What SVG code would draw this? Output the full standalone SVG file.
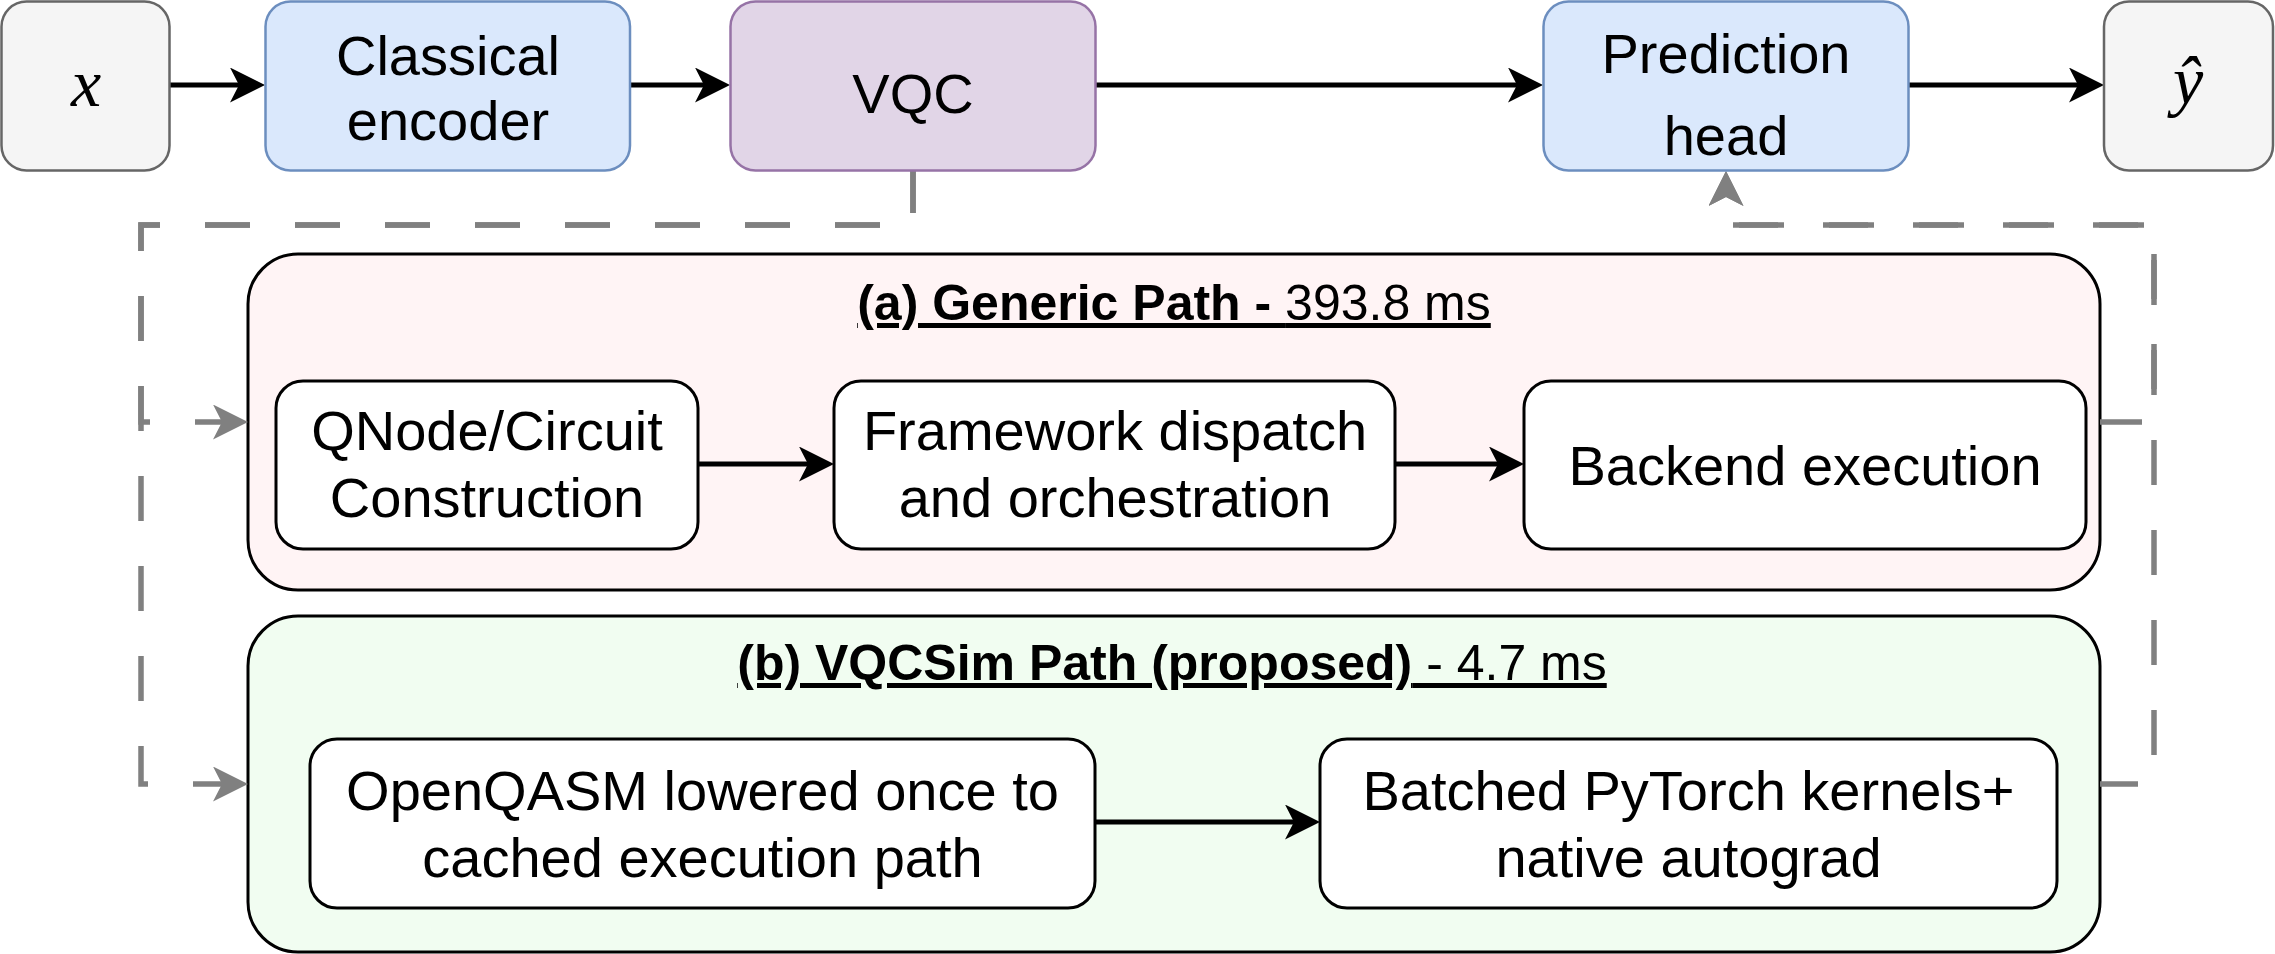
<svg xmlns="http://www.w3.org/2000/svg" width="2275" height="954" viewBox="0 0 2275 954">
<defs>
<style>
.lbl{font-family:"Liberation Sans",Arial,sans-serif;font-size:56px;fill:#000;text-anchor:middle}
.ttl{font-family:"Liberation Sans",Arial,sans-serif;font-size:50px;fill:#000;text-anchor:middle;text-decoration:underline}
.math{font-family:"Liberation Serif","Times New Roman",serif;font-style:italic;font-size:68px;fill:#000;text-anchor:middle}
.io{fill:#f5f5f5;stroke:#666666;stroke-width:2.5}
.blue{fill:#dae8fc;stroke:#6c8ebf;stroke-width:2.5}
.purple{fill:#e1d5e7;stroke:#9673a6;stroke-width:2.5}
.inner{fill:#ffffff;stroke:#000;stroke-width:3}
.flow{fill:none;stroke:#000;stroke-width:5;marker-end:url(#ab)}
.dash{fill:none;stroke:#808080;stroke-width:5.5;stroke-dasharray:45 45;marker-end:url(#ag)}
</style>
<marker id="ab" viewBox="0 0 35 35" refX="9" refY="17.5" markerWidth="35" markerHeight="35" markerUnits="userSpaceOnUse" orient="auto"><path d="M0,0 L35,17.5 L0,35 L9,17.5 Z" fill="#000"/></marker>
<marker id="ag" viewBox="0 0 35 35" refX="9" refY="17.5" markerWidth="35" markerHeight="35" markerUnits="userSpaceOnUse" orient="auto"><path d="M0,0 L35,17.5 L0,35 L9,17.5 Z" fill="#808080"/></marker>
</defs>
<rect width="2275" height="954" fill="#ffffff"/>

<g id="path-a">
<rect x="248" y="254" width="1852" height="336" rx="50" fill="#fff4f5" stroke="#000" stroke-width="3"/>
<text class="ttl" x="1174" y="320"><tspan font-weight="bold">(a) Generic Path - </tspan><tspan>393.8 ms</tspan></text>
</g>
<g id="path-b">
<rect x="248" y="616" width="1852" height="336" rx="50" fill="#f1fdf1" stroke="#000" stroke-width="3"/>
<text class="ttl" x="1172" y="680"><tspan font-weight="bold">(b) VQCSim Path (proposed)</tspan><tspan> - 4.7 ms</tspan></text>
</g>

<g id="connectors">
<path class="dash" stroke-dashoffset="3" d="M913,171 V225 H141 V422 H222"/>
<path class="dash" stroke-dashoffset="3" d="M913,171 V225 H141 V784 H222"/>
<path class="dash" stroke-dashoffset="3" d="M2100,422 H2154 V225 H1726 V197"/>
<path class="dash" stroke-dashoffset="7" d="M2100,784 H2154 V225 H1726 V197"/>
<path class="flow" d="M170,85 H239"/>
<path class="flow" d="M630,85 H704"/>
<path class="flow" d="M1096,85 H1517"/>
<path class="flow" d="M1908,85 H2078"/>
<path class="flow" d="M698,464 H808"/>
<path class="flow" d="M1395,464 H1498"/>
<path class="flow" d="M1095,822 H1294"/>
</g>

<g id="x">
<rect class="io" x="1.5" y="1.5" width="168" height="169" rx="25"/>
<text class="math" x="86" y="106">x</text>
</g>
<g id="encoder">
<rect class="blue" x="265.5" y="1.5" width="364.5" height="169" rx="25"/>
<text class="lbl" x="448" y="75">Classical</text>
<text class="lbl" x="448" y="140">encoder</text>
</g>
<g id="vqc">
<rect class="purple" x="730.5" y="1.5" width="365" height="169" rx="25"/>
<text class="lbl" x="913" y="113">VQC</text>
</g>
<g id="prediction-head">
<rect class="blue" x="1543.5" y="1.5" width="365" height="169" rx="25"/>
<text class="lbl" x="1726" y="73">Prediction</text>
<text class="lbl" x="1726" y="155">head</text>
</g>
<g id="y-hat">
<rect class="io" x="2104" y="1.5" width="169" height="169" rx="25"/>
<text class="math" x="2188" y="104">ŷ</text>
</g>

<g id="qnode">
<rect class="inner" x="276" y="381" width="422" height="168" rx="27"/>
<text class="lbl" x="487" y="450">QNode/Circuit</text>
<text class="lbl" x="487" y="517">Construction</text>
</g>
<g id="framework">
<rect class="inner" x="834" y="381" width="561" height="168" rx="27"/>
<text class="lbl" x="1115" y="450">Framework dispatch</text>
<text class="lbl" x="1115" y="517">and orchestration</text>
</g>
<g id="backend">
<rect class="inner" x="1524" y="381" width="562" height="168" rx="27"/>
<text class="lbl" x="1805" y="485">Backend execution</text>
</g>
<g id="openqasm">
<rect class="inner" x="310" y="739" width="785" height="169" rx="27"/>
<text class="lbl" x="702.5" y="810">OpenQASM lowered once to</text>
<text class="lbl" x="702.5" y="877">cached execution path</text>
</g>
<g id="batched">
<rect class="inner" x="1320" y="739" width="737" height="169" rx="27"/>
<text class="lbl" x="1688.5" y="810">Batched PyTorch kernels+</text>
<text class="lbl" x="1688.5" y="877">native autograd</text>
</g>
</svg>
